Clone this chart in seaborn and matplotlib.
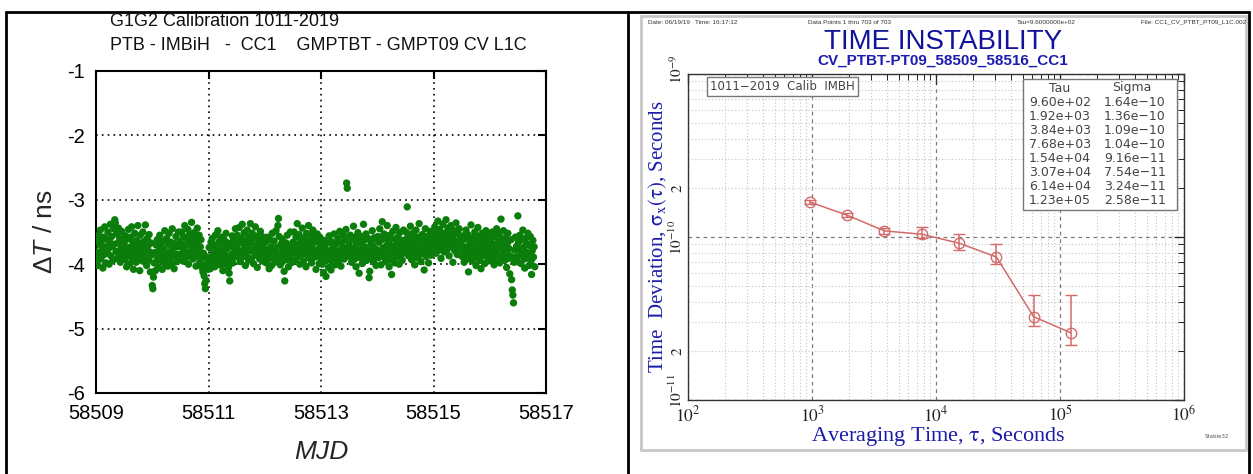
import numpy as np
import pandas as pd
import matplotlib
matplotlib.use("Agg")
import matplotlib.pyplot as plt
import seaborn as sns
from matplotlib.lines import Line2D
from matplotlib.patches import Rectangle
from matplotlib.transforms import ScaledTranslation
from matplotlib.ticker import FixedLocator, NullFormatter, FuncFormatter

# ---------------- data ----------------
mjd_start = 58509.0
sample_interval_s = 960.0

delta_t_ns = [
    -3.95,-3.62,-3.81,-4.02,-3.55,-3.88,-3.70,-3.47,-3.92,-3.64,-3.79,-4.06,-3.58,-3.85,-3.42,-3.73,-3.98,-3.61,-3.83,-3.50,-3.76,-4.00,-3.66,-3.38,-3.87,-3.57,-3.72,-3.94,-3.45,-3.69,-3.31,-3.36,-3.80,-3.53,-3.91,-3.67,-3.44,-3.84,-3.60,-3.97,-3.75,-3.49,-3.86,-3.63,-3.78,
    -3.68,-3.93,-3.56,-3.82,-4.04,-3.61,-3.87,-3.46,-3.74,-3.99,-3.58,-3.80,-3.42,-3.90,-3.66,-4.08,-3.71,-3.52,-3.85,-3.97,-3.63,-3.77,-3.40,-3.89,-3.69,-4.10,-3.55,-3.83,-3.73,-3.95,-3.50,-3.65,-3.88,-3.79,-3.39,-3.84,-4.02,-3.60,-3.72,-3.94,-3.54,-3.81,-4.12,-3.67,-3.86,
    -4.33,-4.38,-4.20,-3.98,-3.82,-4.10,-3.70,-3.96,-3.62,-3.90,-4.05,-3.78,-3.55,-3.93,-3.71,-3.86,-4.08,-3.64,-3.91,-3.76,-3.48,-4.00,-3.83,-3.60,-3.88,-4.03,-3.69,-3.52,-3.94,-3.80,-3.66,-3.99,-3.45,-3.75,-3.87,-4.07,-3.68,-3.84,-3.57,-3.96,-3.73,-3.89,-3.50,-3.85,-3.65,
    -3.66,-3.84,-3.50,-3.74,-3.95,-3.57,-3.79,-3.40,-3.70,-3.90,-3.60,-3.82,-3.46,-4.00,-3.67,-3.54,-3.87,-3.76,-3.35,-3.63,-3.92,-3.72,-3.51,-3.81,-3.59,-4.03,-3.69,-3.44,-3.88,-3.78,-3.55,-3.97,-3.73,-3.62,-3.91,-4.06,-4.12,-3.83,-4.18,-4.30,-4.38,-4.25,-3.99,-3.89,-4.08,
    -3.98,-3.74,-3.90,-4.07,-3.66,-3.87,-3.60,-3.96,-3.80,-3.70,-4.04,-3.55,-3.85,-3.94,-3.75,-3.48,-3.89,-3.65,-4.01,-3.82,-3.58,-3.92,-3.69,-4.10,-3.79,-3.62,-3.99,-3.86,-3.52,-3.76,-3.95,-3.67,-4.05,-4.14,-4.26,-3.90,-3.72,-3.84,-3.56,-3.98,-3.63,-3.88,-3.77,-3.45,-3.82,
    -3.73,-3.55,-3.89,-3.65,-3.43,-3.79,-3.96,-3.60,-3.83,-3.38,-3.68,-3.88,-3.51,-3.76,-4.02,-3.62,-3.85,-3.47,-3.72,-3.93,-3.58,-3.78,-3.37,-3.66,-3.91,-3.52,-3.80,-3.99,-3.59,-3.75,-3.42,-3.86,-3.70,-4.05,-3.56,-3.79,-3.64,-3.92,-3.49,-3.74,-3.84,-3.57,-3.95,-3.67,-3.78,
    -3.87,-3.66,-3.98,-3.77,-3.58,-3.92,-3.81,-4.07,-3.62,-3.86,-3.73,-4.02,-3.52,-3.90,-3.78,-3.64,-3.97,-3.84,-3.48,-3.74,-3.91,-3.40,-3.29,-3.57,-3.83,-4.01,-3.69,-3.88,-3.61,-3.95,-3.76,-4.11,-4.26,-3.85,-3.67,-3.93,-3.55,-3.80,-4.04,-3.71,-3.89,-3.50,-3.84,-3.75,-3.97,
    -3.66,-3.82,-3.50,-3.75,-3.93,-3.58,-3.79,-3.37,-3.69,-3.88,-3.54,-4.00,-3.72,-3.62,-3.85,-3.44,-3.77,-3.95,-3.60,-3.81,-3.67,-4.04,-3.52,-3.86,-3.74,-3.40,-3.64,-3.91,-3.78,-3.56,-3.98,-3.70,-3.47,-3.84,-3.61,-3.89,-3.79,-4.08,-3.65,-3.53,-3.87,-3.76,-3.99,-3.58,-3.81,
    -3.91,-3.70,-4.00,-3.82,-4.13,-3.63,-3.88,-3.76,-4.19,-3.94,-3.67,-3.85,-4.05,-3.56,-3.87,-3.79,-4.09,-3.65,-3.97,-3.74,-3.90,-3.53,-3.83,-4.01,-3.69,-3.93,-3.80,-3.60,-3.96,-3.86,-3.49,-3.78,-4.03,-3.66,-3.89,-3.73,-3.55,-3.92,-3.81,-3.62,-3.46,-2.74,-2.82,-3.76,-3.87,
    -3.70,-3.88,-3.55,-3.80,-3.97,-3.62,-3.83,-3.41,-3.75,-3.92,-3.58,-4.04,-3.68,-3.85,-3.51,-3.78,-4.14,-3.64,-3.90,-3.57,-3.81,-3.99,-3.72,-3.38,-3.63,-3.87,-3.77,-3.53,-3.94,-3.74,-3.60,-3.84,-4.21,-4.11,-3.79,-3.66,-3.89,-3.48,-3.71,-3.96,-3.59,-3.82,-3.76,-4.02,-3.61,
    -3.78,-3.57,-3.90,-3.66,-3.45,-3.84,-4.01,-3.62,-3.34,-3.75,-3.88,-3.53,-3.80,-3.96,-3.60,-3.71,-3.40,-3.87,-3.65,-4.04,-3.55,-3.77,-3.93,-4.16,-3.72,-3.49,-3.83,-3.61,-3.98,-3.74,-3.43,-3.89,-3.69,-3.58,-3.81,-4.00,-3.51,-3.76,-3.86,-3.63,-3.94,-3.73,-3.47,-3.82,-3.67,
    -3.62,-3.80,-3.51,-3.11,-3.70,-3.87,-3.56,-3.77,-3.41,-3.66,-3.93,-3.73,-3.52,-3.83,-3.63,-4.01,-3.69,-3.47,-3.78,-3.90,-3.58,-3.72,-3.37,-3.85,-3.65,-3.96,-3.75,-3.54,-3.81,-3.64,-4.09,-3.76,-3.45,-3.88,-3.68,-3.57,-3.79,-3.98,-3.61,-3.74,-3.49,-3.86,-3.70,-3.55,-3.77,
    -3.57,-3.72,-3.42,-3.64,-3.83,-3.49,-3.68,-3.33,-3.60,-3.78,-3.46,-3.69,-3.91,-3.54,-3.74,-3.38,-3.63,-3.81,-3.52,-3.67,-3.31,-3.59,-3.77,-3.44,-3.70,-3.87,-3.51,-3.66,-3.40,-3.73,-3.56,-3.97,-3.62,-3.48,-3.79,-3.68,-3.36,-3.65,-3.85,-3.53,-3.71,-3.45,-3.76,-3.58,-3.69,
    -3.71,-3.88,-3.56,-3.79,-3.97,-3.61,-3.83,-3.47,-3.73,-3.92,-3.54,-4.12,-3.77,-3.64,-3.85,-3.39,-3.69,-3.95,-3.59,-3.80,-3.90,-3.50,-3.72,-4.02,-3.63,-3.84,-3.43,-3.78,-3.57,-3.94,-3.75,-4.07,-3.67,-3.52,-3.87,-3.79,-3.60,-3.99,-3.72,-3.48,-3.82,-3.65,-3.91,-3.55,-3.76,
    -3.83,-3.64,-3.95,-3.74,-3.50,-3.89,-3.69,-4.01,-3.57,-3.81,-3.77,-3.45,-3.92,-3.66,-3.86,-3.53,-3.98,-3.73,-3.30,-3.61,-3.88,-3.79,-3.48,-3.71,-3.94,-3.59,-3.84,-4.05,-3.68,-3.52,-3.91,-3.76,-4.15,-3.87,-3.62,-4.24,-4.40,-4.48,-4.60,-3.97,-3.78,-3.58,-3.89,-3.72,-3.96,
    -3.25,-3.66,-3.87,-3.55,-3.78,-3.99,-3.62,-3.83,-3.47,-3.74,-3.92,-4.06,-3.60,-3.81,-3.68,-3.90,-3.52,-3.85,-4.02,-3.71,-3.57,-3.95,-4.16,-3.79,-3.63,-3.89,-3.73,-4.04,
]

tau_s = [9.60e2, 1.92e3, 3.84e3, 7.68e3, 1.54e4, 3.07e4, 6.14e4, 1.23e5]
sigma_s = [1.64e-10, 1.36e-10, 1.09e-10, 1.04e-10, 9.16e-11, 7.54e-11, 3.24e-11, 2.58e-11]
sigma_lo = [1.59e-10, 1.32e-10, 1.04e-10, 0.98e-10, 8.30e-11, 6.85e-11, 2.85e-11, 2.18e-11]
sigma_hi = [1.69e-10, 1.40e-10, 1.14e-10, 1.15e-10, 1.04e-10, 9.00e-11, 4.40e-11, 4.40e-11]

left_title = ["G1G2 Calibration 1011-2019",
              "PTB - IMBiH   -  CC1    GMPTBT - GMPT09 CV L1C"]
left_xticks = [58509, 58511, 58513, 58515, 58517]
left_yticks = [-6, -5, -4, -3, -2, -1]

header_texts = ["Date: 06/19/19   Time: 16:17:12",
                "Data Points 1 thru 703 of 703",
                "Tau=9.6000000e+02",
                "File: CC1_CV_PTBT_PT09_L1C.002"]
right_title = "TIME INSTABILITY"
right_subtitle = "CV_PTBT-PT09_58509_58516_CC1"
legend_label = "1011\u22122019  Calib  IMBH"

# ---------------- style ----------------
W, H = 1253, 474
sns.set_style("white")
plt.rcParams["font.family"] = ["Liberation Sans", "DejaVu Sans"]
plt.rcParams["axes.unicode_minus"] = False
plt.rcParams["mathtext.fontset"] = "stix"
plt.rcParams["mathtext.rm"] = "Liberation Sans"
plt.rcParams["mathtext.it"] = "Liberation Sans:italic"
NARROW = ["Liberation Sans Narrow", "Liberation Sans"]


def px(x, y):
    return x / W, 1 - y / H


fig = plt.figure(figsize=(W / 100, H / 100), dpi=100)
fig.patch.set_facecolor("white")

# outer table-like frames
for (x0, y0, x1, y1) in [(6, 12, 1249, 12), (6, 12, 6, 474), (628, 12, 628, 474), (1249, 12, 1249, 474)]:
    a, b = px(x0, y0)
    c, d = px(x1, y1)
    fig.add_artist(Line2D([a, c], [b, d], transform=fig.transFigure, color="black", lw=2))
gx, gy = px(641, 450)
fig.add_artist(Rectangle((gx, gy), (1246 - 641) / W, (450 - 16) / H, transform=fig.transFigure,
                         fill=False, ec="#c8c8c8", lw=2))

# ---------------- left panel ----------------
mjd = mjd_start + np.arange(len(delta_t_ns)) * sample_interval_s / 86400.0
df = pd.DataFrame({"MJD": mjd, "dT": delta_t_ns})

ax1 = fig.add_axes([96 / W, 1 - 393 / H, 450 / W, 322 / H])
sns.scatterplot(data=df, x="MJD", y="dT", ax=ax1, color="#0a7d0a", s=28,
                edgecolor="none", linewidth=0, legend=False, zorder=3)
ax1.set_xlim(58509, 58517)
ax1.set_ylim(-6, -1)
ax1.set_xticks(left_xticks, [str(v) for v in left_xticks])
ax1.set_yticks(left_yticks, [str(v) for v in left_yticks])
ax1.grid(True, color="black", linestyle=(0, (1, 2.5)), linewidth=1.2)
ax1.tick_params(direction="in", length=6, width=1.5, top=True, right=True,
                labelsize=14.5, pad=8, colors="black")
for s in ax1.spines.values():
    s.set_linewidth(1.5)
    s.set_color("black")
ax1.set_xlabel("MJD", fontsize=19, style="italic", va="center")
ax1.xaxis.set_label_coords(0.5, -0.183)
ax1.set_ylabel(r"$\Delta\mathit{T}$ / ns", fontsize=19, va="center", math_fontfamily="custom")
ax1.yaxis.set_label_coords(-0.113, 0.5)

for i, t in enumerate(left_title):
    x, y = px(110, 22 + 24 * i)
    fig.text(x, y, t, fontsize=13, ha="left", va="center", color="#111111")

# ---------------- right panel ----------------
red = "#d46a6a"
ax2 = fig.add_axes([688 / W, 1 - 400 / H, 496 / W, 326 / H])
ax2.set_xscale("log")
ax2.set_yscale("log")
sns.lineplot(x=tau_s, y=sigma_s, ax=ax2, color=red, linewidth=1.1, marker="o",
             markersize=7.5, markerfacecolor="none", markeredgecolor=red,
             markeredgewidth=1.0, zorder=4)
sig = np.array(sigma_s)
ax2.errorbar(tau_s, sigma_s, yerr=[sig - np.array(sigma_lo), np.array(sigma_hi) - sig],
             fmt="none", ecolor=red, elinewidth=1.1, capsize=4, capthick=1.0, zorder=4)
ax2.set_xlim(1e2, 1e6)
ax2.set_ylim(1e-11, 1e-9)

xmaj = [1e2, 1e3, 1e4, 1e5, 1e6]
ax2.xaxis.set_major_locator(FixedLocator(xmaj))
ax2.xaxis.set_major_formatter(FuncFormatter(lambda v, p: r"$10^{%d}$" % round(np.log10(v))))
xmin = [m * 10.0 ** e for e in range(2, 6) for m in range(2, 10)]
ax2.xaxis.set_minor_locator(FixedLocator(xmin))
ax2.xaxis.set_minor_formatter(NullFormatter())

ymaj = [1e-11, 1e-10, 1e-9]
ax2.yaxis.set_major_locator(FixedLocator(ymaj))
ax2.yaxis.set_major_formatter(FuncFormatter(lambda v, p: r"$10^{%d}$" % round(np.log10(v))))
ymin = [m * 10.0 ** e for e in range(-11, -9) for m in range(2, 10)]
ax2.yaxis.set_minor_locator(FixedLocator(ymin))


def ymin_fmt(v, p):
    m = v / 10 ** np.floor(np.log10(v) + 1e-9)
    return r"$2$" if abs(m - 2) < 0.01 else ""


ax2.yaxis.set_minor_formatter(FuncFormatter(ymin_fmt))

ax2.grid(which="major", color="#7a7a7a", linestyle=(0, (3, 3)), linewidth=0.9)
ax2.grid(which="minor", color="#c4c4c4", linestyle=(0, (1, 2)), linewidth=0.8)
ax2.tick_params(which="both", direction="in", top=True, right=True, colors="#222222")
ax2.tick_params(which="major", length=7, width=0.9)
ax2.tick_params(which="minor", length=4, width=0.7)
ax2.tick_params(axis="x", which="both", labelsize=12.5, pad=3)
ax2.tick_params(axis="y", which="both", labelsize=11, pad=2, labelrotation=90)
for lbl in ax2.get_yticklabels(which="both"):
    lbl.set_va("center")
# lift the bottom decade label a little, as in the original
ylabels_major = ax2.yaxis.get_majorticklabels()
ylabels_major[0].set_transform(ylabels_major[0].get_transform()
                               + ScaledTranslation(0, 9 / 100, fig.dpi_scale_trans))
ylabels_major[2].set_transform(ylabels_major[2].get_transform()
                               + ScaledTranslation(0, 5 / 100, fig.dpi_scale_trans))
for s in ax2.spines.values():
    s.set_linewidth(1.0)
    s.set_color("#333333")

blue = "#1c1caa"
ax2.set_xlabel(r"Averaging Time, $\mathrm{\tau}$, Seconds", fontsize=16, family="Liberation Serif",
               color=blue, va="center")
ax2.xaxis.set_label_coords(0.504, -0.113)
ax2.set_ylabel(r"Time  Deviation, $\mathrm{\sigma_{x}(\tau)}$, Seconds", fontsize=15,
               family="Liberation Serif", color=blue, va="center")
ax2.yaxis.set_label_coords(-0.062, 0.5)

# legend-like label box
ax2.text(0.045, 0.962, legend_label, transform=ax2.transAxes, fontsize=8.5,
         family="DejaVu Sans", color="#444444", ha="left", va="center", zorder=6,
         bbox=dict(boxstyle="square,pad=0.25", fc="white", ec="#777777", lw=1.0))

# tau / sigma table
bx, by = px(1023, 210)
fig.add_artist(Rectangle((bx, by), (1177 - 1023) / W, (210 - 79) / H, transform=fig.transFigure,
                         fc="white", ec="#777777", lw=1.0, zorder=5))
x, y = px(1060, 88)
fig.text(x, y, "Tau", fontsize=9, family="DejaVu Sans", color="#444444", ha="center", va="center", zorder=6)
x, y = px(1132, 88)
fig.text(x, y, "Sigma", fontsize=9, family="DejaVu Sans", color="#444444", ha="center", va="center", zorder=6)
for k, (t, s) in enumerate(zip(tau_s, sigma_s)):
    yy = 103 + k * 13.9
    x, y = px(1029, yy)
    fig.text(x, y, f"{t:.2e}", fontsize=9, family="DejaVu Sans", color="#444444",
             ha="left", va="center", zorder=6)
    x, y = px(1104, yy)
    fig.text(x, y, f"{s:.2e}".replace("-", "\u2212"), fontsize=9, family="DejaVu Sans",
             color="#444444", ha="left", va="center", zorder=6)

# header line
for t, xx in zip(header_texts, [648, 808, 1017, 1141]):
    x, y = px(xx, 22)
    fig.text(x, y, t, fontsize=4.6, family=NARROW, color="#333333", ha="left", va="center")

x, y = px(943, 42)
fig.text(x, y, right_title, fontsize=20, family=NARROW,
         color="#12129a", ha="center", va="center")
x, y = px(943, 61)
fig.text(x, y, right_subtitle, fontsize=11, family=NARROW,
         weight="bold", color="#1c1cb0", ha="center", va="center")
x, y = px(1217, 437)
fig.text(x, y, "Stable32", fontsize=4, family="DejaVu Sans", color="#555555", ha="center", va="center")

fig.savefig("out.png", dpi=100, facecolor="white")
